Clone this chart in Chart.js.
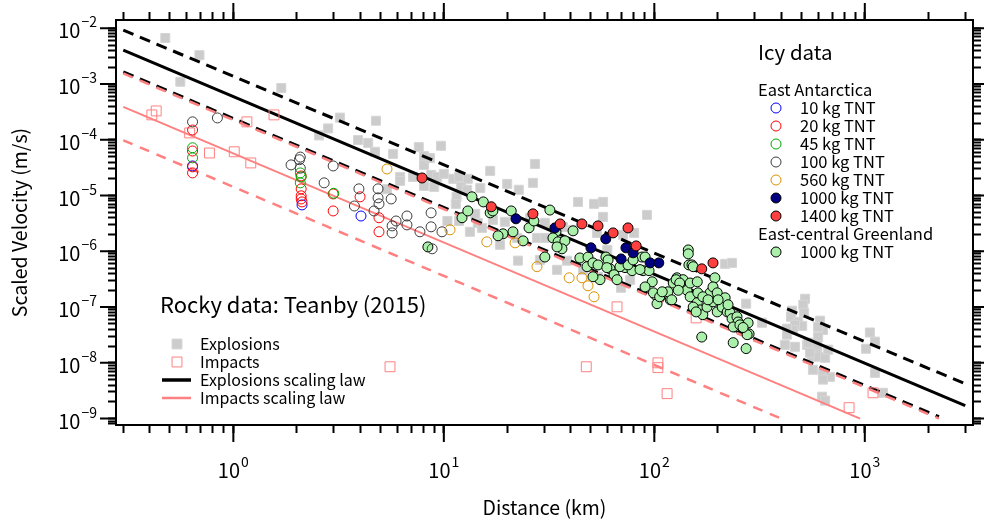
<!DOCTYPE html>
<html>
<head>
<meta charset="utf-8">
<script src="https://cdn.jsdelivr.net/npm/chart.js@4.4.0/dist/chart.umd.min.js"></script>
<style>
  html, body { margin: 0; padding: 0; background: #fff; }
  #wrap { width: 984px; height: 521px; }
</style>
</head>
<body>
<div id="wrap"><canvas id="canvas" width="984" height="521"></canvas></div>
<script>
// values: [distance km, scaled velocity m/s]
var explosions = [
  [0.475,6.7e-3],[0.69,3.3e-3],[0.56,1.1e-3],[1.69,8.5e-4],[2.82,1.6e-4],[2.55,1.2e-4],[3.21,2.5e-4],[4.76,2.2e-4],
  [3.91,9.9e-5],[4.37,8.8e-5],[4.71,6.1e-5],[5.74,5.6e-5],[7.6,7.4e-5],[9.7,7.8e-5],[8.05,3.55e-5],[8.6,4.7e-5],
  [8.05,5.1e-5],[5.37,1.3e-5],[6.2,2.16e-5],[6.2,1.83e-5],[7.14,2.16e-5],[8.7,2.35e-5],[9.3,2.16e-5],[10.0,2.45e-5],
  [9.0,1.43e-5],[8.05,1.49e-5],[11.1,2.0e-5],[11.8,2.16e-5],[13.0,2.0e-5],[12.1,1.43e-5],[12.9,1.27e-5],[11.5,9.5e-6],
  [11.4,7.1e-6],[10.4,3.5e-6],[11.8,3.5e-6],[13.3,2.24e-6],[14.1,4.7e-6],[14.5,3.24e-6],[16.6,2.77e-5],[27.1,3.7e-5],
  [20.0,1.62e-5],[26.5,1.69e-5],[22.7,1.27e-5],[43.4,7.7e-6],[51.7,7.1e-6],[57.1,7.7e-6],[14.9,1.37e-5],[15.2,2.63e-6],
  [17.1,3.67e-6],[18.5,1.31e-6],[22.5,6.8e-7],[28.6,7.0e-7],[34.5,4.66e-7],[38.5,6.8e-7],[27.7,1.74e-6],[30.2,1.74e-6],
  [22.3,1.74e-6],[19.5,3.38e-6],[25.7,3.98e-6],[30.2,3.24e-6],[36.8,2.75e-6],[41.1,2.43e-6],[53.4,2.14e-6],[59.8,1.06e-6],
  [54.0,3.49e-7],[45.8,4.66e-7],[57.1,4.15e-6],[71.0,1.98e-6],[80.2,2.14e-6],[76.8,3.08e-7],[69.5,2.22e-7],[92.3,4.5e-6],
  [217,5.96e-7],[234,6.2e-7],[273,1.15e-7],[325,5.23e-8],[520,1.41e-7],[510,1.1e-7],[515,7.9e-8],[451,8.6e-8],
  [446,6.7e-8],[482,5.45e-8],[504,4.6e-8],[466,4.8e-8],[456,3.9e-8],[427,4.1e-8],[427,3.2e-8],[417,2.1e-8],
  [466,1.94e-8],[532,2.1e-8],[549,1.72e-8],[594,1.72e-8],[613,5.7e-8],[633,3.9e-8],[600,2.9e-8],[561,1.29e-8],
  [600,1.29e-8],[648,1.23e-8],[567,7.5e-9],[633,6.6e-9],[683,5.6e-9],[633,5.0e-9],[626,2.47e-9],[648,2.1e-9],
  [537,2.3e-8],[594,2.1e-8],[670,1.72e-8],[600,4.4e-8],[549,1.52e-8],[1057,3.5e-8],[1118,2.4e-8],[1013,1.79e-8],
  [1118,6.6e-9],[1220,2.9e-9]
];
var impacts = [
  [0.41,2.8e-4],[0.43,3.3e-4],[0.62,1.33e-4],[0.77,5.8e-5],[1.01,6.1e-5],[1.21,3.85e-5],[1.16,2.1e-4],[1.56,2.8e-4],
  [5.55,8.5e-9],[47.5,8.5e-9],[66.5,1.01e-7],[104,1.0e-8],[104,8.2e-9],[115,2.8e-9],[158,6.4e-8],[842,1.57e-9],[1094,2.9e-9]
];
var explosionLaw   = [[0.3,4.08e-3],[3000,1.7e-9]];
var explosionLawHi = [[0.3,9.3e-3],[3000,4.2e-9]];
var explosionLawLo = [[0.3,1.65e-3],[2250,1.08e-9]];
var impactLaw      = [[0.3,3.9e-4],[950,1.0e-9]];
var impactLawHi    = [[0.3,1.55e-3],[2250,1.0e-9]];
var impactLawLo    = [[0.3,9.8e-5],[400,1.0e-9]];

var tnt10 = [[0.64,3.4e-5],[2.12,6.8e-6],[4.04,4.3e-6]];
var tnt20 = [
  [0.64,1.5e-4],[0.64,6.3e-5],[0.64,3.27e-5],[0.64,2.55e-5],[2.1,2.25e-5],[2.1,1.32e-5],[2.1,9.9e-6],[2.1,8.7e-6],
  [2.12,7.7e-6],[2.98,1.07e-5],[2.98,5.3e-6],[4.0,9.5e-6],[4.92,4.0e-6],[4.92,2.24e-6]
];
var tnt45 = [[0.64,7.2e-5],[0.64,4.75e-5],[2.08,2.55e-5],[2.1,2.16e-5],[2.08,1.69e-5],[3.0,1.1e-5]];
var tnt100 = [
  [0.64,2.1e-4],[0.84,2.47e-4],[2.08,4.9e-5],[2.06,4.4e-5],[1.88,3.55e-5],[2.08,3.1e-5],[2.70,1.69e-5],[2.98,3.4e-5],
  [3.95,1.32e-5],[3.76,6.5e-6],[4.87,1.32e-5],[4.87,9.1e-6],[4.92,7.1e-6],[4.66,5.3e-6],[5.62,8.7e-6],[5.93,3.5e-6],
  [5.68,2.86e-6],[5.68,2.14e-6],[6.68,4.3e-6],[6.68,2.98e-6],[7.7,2.24e-6],[8.7,4.9e-6],[8.7,2.75e-6],[9.8,2.24e-6],[8.8,1.11e-6]
];
var tnt560 = [[5.37,3.0e-5],[10.7,2.43e-6],[16.0,1.48e-6],[21.8,1.42e-6],[27.7,5.3e-7],[39.4,3.35e-7],[45.3,3.35e-7],[48.4,2.41e-7],[51.7,1.53e-7]];
var tnt1000 = [[22.0,3.83e-6],[33.7,2.63e-6],[50.0,1.155e-6],[58.8,1.67e-6],[73.3,1.155e-6],[79.3,9.4e-7],[69.5,7.3e-7],[95.5,6.2e-7],[105,6.2e-7]];
var tnt1400 = [[7.88,2.07e-5],[16.8,6.3e-6],[26.5,4.7e-6],[35.7,3.1e-6],[45.3,3.1e-6],[54.0,2.86e-6],[63.7,2.14e-6],[75.0,2.63e-6],[82.0,1.25e-6],[168,4.85e-7],[190,6.2e-7]];
var greenland1000 = [
  [8.4,1.2e-6],[12.2,4.0e-6],[13.0,5.3e-6],[13.6,9.5e-6],[15.4,7.7e-6],[16.6,4.9e-6],[17.1,5.3e-6],[20.9,5.3e-6],
  [21.3,2.24e-6],[19.1,2.06e-6],[18.1,1.9e-6],[23.8,1.54e-6],[25.4,2.64e-6],[26.8,3.5e-6],[31.9,5.5e-6],[30.2,7.9e-7],
  [34.1,2.24e-6],[33.0,1.74e-6],[34.9,1.48e-6],[37.6,1.54e-6],[36.4,1.11e-6],[34.5,1.2e-6],[41.1,2.33e-6],[44.3,7.6e-7],
  [48.4,7.9e-7],[47.9,5.3e-7],[51.1,6.2e-7],[54.0,5.7e-7],[55.2,3.1e-7],[58.9,7.9e-7],[60.3,7.0e-7],[61.6,4.85e-7],
  [64.4,3.8e-7],[66.5,3.1e-7],[72.6,5.1e-7],[78.4,4.5e-7],[87.4,7.9e-7],[88.4,4.5e-7],[94.4,4.5e-7],[97.7,2.84e-7],
  [90.4,2.3e-7],[145,1.06e-6],[145,9.0e-7],[146,5.7e-7],[151,5.7e-7],[101,1.66e-7],[103,1.15e-7],[115,1.66e-7],
  [119,1.35e-7],[194,3.35e-7],[168,2.9e-8],[237,2.3e-8],[273,1.8e-8],[282,3.3e-8],[242,4.4e-8],[279,5.2e-8],
  [276,3.2e-8],[51.1,3.5e-7],[59.5,5.1e-7],[68.7,5.3e-7],[75.0,5.7e-7],[79.3,7.0e-7],[85.5,4.7e-7],[99,1.8e-7],
  [106,1.53e-7],[116,1.88e-7],[123,2.7e-7],[128,3.35e-7],[137,3.1e-7],[143,2.0e-7],[148,1.53e-7],[160,1.2e-7],
  [165,8.9e-8],[170,7.3e-8],[178,1.0e-7],[184,1.8e-7],[190,2.3e-7],[190,1.24e-7],[199,8.2e-8],[153,5.3e-7],
  [109,1.88e-7],[127,3.1e-7],[132,2.7e-7],[130,2.0e-7],[148,2.7e-7],[160,2.84e-7],[161,1.8e-7],[170,1.53e-7],
  [153,1.0e-7],[158,8.2e-8],[180,1.35e-7],[199,1.8e-7],[210,1.0e-7],[217,1.47e-7],[222,8.2e-8],[229,7.9e-8],
  [234,6.2e-8],[247,6.7e-8],[250,5.4e-8],[237,4.4e-8],[255,4.8e-8],[264,4.3e-8],[121,1.35e-7],[90.4,7.9e-7],
  [224,1.1e-7],[201,1.35e-7]
];

var xExps = [0, 1, 2, 3];
var yExps = [-9, -8, -7, -6, -5, -4, -3, -2];
var xRange = [0.277, 3266];
var yRange = [7.67e-10, 1.41e-2];

var FONT = '"Noto Sans CJK JP", "Noto Sans", sans-serif';

function pts(a) {
  return a.map(function (p) { return {x: p[0], y: p[1]}; });
}

// 1..9 x 10^n ticks inside the range
function logTicks(min, max) {
  var t = [];
  for (var e = Math.floor(Math.log10(min)); e <= Math.ceil(Math.log10(max)); e++) {
    for (var m = 1; m < 10; m++) {
      var v = m * Math.pow(10, e);
      if (v >= min && v <= max) t.push({value: v, major: m === 1});
    }
  }
  return t;
}

var styles = {
  tnt10:   {pointStyle: 'circle', radius: 5, border: 'rgb(0,0,255)',     fill: 'rgba(0,0,0,0)'},
  tnt20:   {pointStyle: 'circle', radius: 5, border: 'rgb(255,0,0)',     fill: 'rgba(0,0,0,0)'},
  tnt45:   {pointStyle: 'circle', radius: 5, border: 'rgb(0,170,0)',     fill: 'rgba(0,0,0,0)'},
  tnt100:  {pointStyle: 'circle', radius: 5, border: 'rgb(60,60,60)',    fill: 'rgba(0,0,0,0)'},
  tnt560:  {pointStyle: 'circle', radius: 5, border: 'rgb(218,145,0)',   fill: 'rgba(0,0,0,0)'},
  tnt1000: {pointStyle: 'circle', radius: 5, border: '#000',             fill: 'rgb(0,0,128)'},
  tnt1400: {pointStyle: 'circle', radius: 5, border: '#000',             fill: 'rgb(255,64,64)'},
  green:   {pointStyle: 'circle', radius: 5, border: '#000',             fill: 'rgb(170,240,170)'},
  expl:    {pointStyle: 'rect',   radius: 6.4, border: 'rgb(214,214,214)', fill: 'rgb(204,204,204)'},
  imp:     {pointStyle: 'rect',   radius: 7, border: 'rgb(255,128,128)', fill: 'rgba(0,0,0,0)'}
};

function scatterSet(label, data, st, order) {
  return {
    label: label, data: pts(data), order: order, showLine: false,
    pointStyle: st.pointStyle, pointRadius: st.radius, pointHoverRadius: st.radius,
    pointBorderWidth: 1, borderColor: st.border, backgroundColor: st.fill
  };
}

function lawSet(label, data, color, width, dash, order) {
  return {
    label: label, data: pts(data), order: order, showLine: true,
    borderColor: color, borderWidth: width, borderDash: dash, pointRadius: 0, fill: false
  };
}

var PINK = 'rgb(255,128,128)';

var datasets = [
  scatterSet('1400 kg TNT', tnt1400, styles.tnt1400, 0),
  scatterSet('1000 kg TNT', tnt1000, styles.tnt1000, 1),
  scatterSet('560 kg TNT', tnt560, styles.tnt560, 2),
  scatterSet('100 kg TNT', tnt100, styles.tnt100, 3),
  scatterSet('45 kg TNT', tnt45, styles.tnt45, 4),
  scatterSet('20 kg TNT', tnt20, styles.tnt20, 5),
  scatterSet('10 kg TNT', tnt10, styles.tnt10, 6),
  scatterSet('Greenland 1000 kg TNT', greenland1000, styles.green, 7),
  scatterSet('Impacts', impacts, styles.imp, 8),
  lawSet('Impacts +', impactLawHi, PINK, 2.5, [10, 8], 9),
  lawSet('Explosions scaling law', explosionLaw, '#000', 3, [], 10),
  lawSet('Explosions +', explosionLawHi, '#000', 3, [11, 7], 10),
  lawSet('Explosions -', explosionLawLo, '#000', 3, [11, 7], 10),
  lawSet('Impacts scaling law', impactLaw, PINK, 2, [], 11),
  lawSet('Impacts -', impactLawLo, PINK, 2.5, [10, 8], 11),
  scatterSet('Explosions', explosions, styles.expl, 12)
];

function axis(pos, range, size, title) {
  var horiz = pos === 'top' || pos === 'bottom';
  var a = {
    type: 'logarithmic', position: pos, min: range[0], max: range[1],
    afterBuildTicks: function (s) { s.ticks = logTicks(s.min, s.max); },
    afterFit: function (s) { if (horiz) s.height = size; else s.width = size; },
    ticks: {display: false},
    grid: {drawOnChartArea: false, drawTicks: true, tickLength: 8, tickWidth: 2, tickColor: '#000'},
    border: {display: true, color: '#000', width: 2}
  };
  if (title) {
    a.title = {
      display: true, text: title, color: '#000',
      font: {family: FONT, size: 19.5},
      padding: horiz ? {top: 0, bottom: 2} : {top: 8, bottom: 0}
    };
  }
  return a;
}

function drawPow(ctx, exp, x, y, align) {
  var base = '10', sup = String(exp).replace('-', '\u2212');
  ctx.font = '20px ' + FONT;
  var wb = ctx.measureText(base).width;
  ctx.font = '14px ' + FONT;
  var ws = ctx.measureText(sup).width;
  var x0 = align === 'right' ? x - wb - ws - 1 : x - (wb + ws + 1) / 2;
  ctx.textAlign = 'left';
  ctx.textBaseline = 'alphabetic';
  ctx.font = '20px ' + FONT;
  ctx.fillText(base, x0, y);
  ctx.font = '14px ' + FONT;
  ctx.fillText(sup, x0 + wb + 1, y - 11);
}

function marker(ctx, st, x, y) {
  ctx.save();
  ctx.fillStyle = st.fill;
  ctx.strokeStyle = st.border;
  ctx.lineWidth = 1;
  Chart.helpers.drawPoint(ctx, {pointStyle: st.pointStyle, radius: st.radius, rotation: 0, borderWidth: 1}, x, y);
  ctx.restore();
}

var decor = {
  id: 'decor',
  afterDraw: function (chart) {
    var ctx = chart.ctx, sc = chart.scales, ca = chart.chartArea;
    ctx.save();
    ctx.strokeStyle = '#000';
    ctx.lineWidth = 2;
    // longer ticks at the decades
    ctx.beginPath();
    logTicks(sc.x.min, sc.x.max).forEach(function (t) {
      if (!t.major) return;
      var px = sc.x.getPixelForValue(t.value);
      ctx.moveTo(px, ca.bottom); ctx.lineTo(px, ca.bottom + 17);
      ctx.moveTo(px, ca.top); ctx.lineTo(px, ca.top - 17);
    });
    logTicks(sc.y.min, sc.y.max).forEach(function (t) {
      if (!t.major) return;
      var py = sc.y.getPixelForValue(t.value);
      ctx.moveTo(ca.left, py); ctx.lineTo(ca.left - 16, py);
      ctx.moveTo(ca.right, py); ctx.lineTo(ca.right + 16, py);
    });
    ctx.stroke();

    ctx.fillStyle = '#000';
    xExps.forEach(function (e) {
      drawPow(ctx, e, sc.x.getPixelForValue(Math.pow(10, e)), ca.bottom + 53, 'center');
    });
    yExps.forEach(function (e) {
      drawPow(ctx, e, 97, sc.y.getPixelForValue(Math.pow(10, e)) + 10, 'right');
    });

    // icy data legend
    ctx.textAlign = 'left';
    ctx.textBaseline = 'middle';
    ctx.font = '20.5px ' + FONT;
    ctx.fillText('Icy data', 758, 52);
    ctx.font = '16.5px ' + FONT;
    ctx.fillText('East Antarctica', 758, 90);
    var icy = [
      ['10 kg TNT', styles.tnt10], ['20 kg TNT', styles.tnt20], ['45 kg TNT', styles.tnt45],
      ['100 kg TNT', styles.tnt100], ['560 kg TNT', styles.tnt560], ['1000 kg TNT', styles.tnt1000],
      ['1400 kg TNT', styles.tnt1400]
    ];
    icy.forEach(function (it, i) {
      var y = 108 + i * 18;
      marker(ctx, it[1], 776, y);
      ctx.fillStyle = '#000';
      ctx.fillText(it[0], 800, y);
    });
    ctx.fillText('East-central Greenland', 758, 234);
    marker(ctx, styles.green, 776, 252);
    ctx.fillStyle = '#000';
    ctx.fillText('1000 kg TNT', 800, 252);

    // rocky data legend
    ctx.font = '22px ' + FONT;
    ctx.fillText('Rocky data: Teanby (2015)', 160, 305);
    ctx.font = '16px ' + FONT;
    marker(ctx, {pointStyle: 'rect', radius: 7, border: 'rgb(214,214,214)', fill: 'rgb(204,204,204)'}, 177, 344);
    marker(ctx, styles.imp, 177, 362);
    ctx.fillStyle = '#000';
    ctx.fillText('Explosions', 200, 344);
    ctx.fillText('Impacts', 200, 362);
    ctx.fillText('Explosions scaling law', 200, 380);
    ctx.fillText('Impacts scaling law', 200, 398);
    ctx.lineWidth = 3.5;
    ctx.strokeStyle = '#000';
    ctx.beginPath(); ctx.moveTo(162, 380); ctx.lineTo(191, 380); ctx.stroke();
    ctx.lineWidth = 2.5;
    ctx.strokeStyle = PINK;
    ctx.beginPath(); ctx.moveTo(162, 398); ctx.lineTo(191, 398); ctx.stroke();
    ctx.restore();
  }
};

new Chart(document.getElementById('canvas').getContext('2d'), {
  type: 'scatter',
  data: {datasets: datasets},
  options: {
    responsive: false,
    animation: false,
    devicePixelRatio: 1,
    layout: {padding: 0},
    plugins: {legend: {display: false}, tooltip: {enabled: false}, title: {display: false}},
    scales: {
      x: axis('bottom', xRange, 96, 'Distance (km)'),
      x2: axis('top', xRange, 20),
      y: axis('left', yRange, 116, 'Scaled Velocity (m/s)'),
      y2: axis('right', yRange, 11)
    }
  },
  plugins: [decor]
});
</script>
</body>
</html>
